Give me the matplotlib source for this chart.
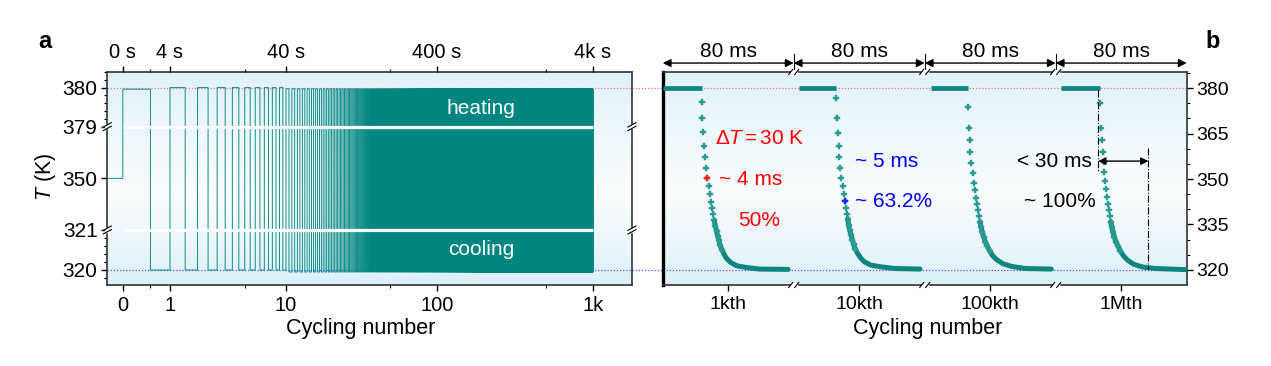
import numpy as np
import matplotlib
matplotlib.use("Agg")
import matplotlib.pyplot as plt
import matplotlib.transforms as mtransforms
from matplotlib.lines import Line2D
from matplotlib.patches import Rectangle
from matplotlib.colors import LinearSegmentedColormap
from matplotlib.ticker import FixedLocator, NullFormatter

plt.rcParams["font.family"] = ["Liberation Sans", "DejaVu Sans"]
plt.rcParams["mathtext.fontset"] = "custom"
plt.rcParams["mathtext.rm"] = "Liberation Sans"
plt.rcParams["mathtext.it"] = "Liberation Sans:italic"

# ---------------- panel a: long-term cycling ----------------
T_start = 350.0
start_cycle = -0.3
n_cycles = 1000
heat_fraction = 0.5
band_edges = [0, 1, 10]          # first cycle of each band
heat_T = [379.96, 380.0, 379.97]
cool_T = [320.0, 320.0, 319.95]

xticks_a = [0, 1, 10, 100, 1000]
xlabels_a = ["0", "1", "10", "100", "1k"]
toplabels_a = ["0 s", "4 s", "40 s", "400 s", "4k s"]
xminor_a = [0.5, 5, 50, 500]
yticks_a = [320, 321, 350, 379, 380]
break_T = [321, 379]

# ---------------- panel b: single cycles (ms) ----------------
windows = ["1kth", "10kth", "100kth", "1Mth"]
window_ms = 80
plateau_start = [0.3, 83.2, 163.7, 243.2]
plateau_end = [23.8, 105.6, 186.4, 267.1]
T_hot = 380
yticks_b = [320, 335, 350, 365, 380]

seg1_t = [23.8, 24.0, 24.4, 25.2, 25.8, 26.6, 27.2, 28.4, 29.0, 29.7, 30.3, 30.9, 31.5,
          32.1, 32.9, 33.5, 34.3, 35.1, 36.2, 37.4, 39.0, 41.5, 45.1, 51.2, 59.3, 76.6]
seg1_T = [375.3, 370.0, 365.4, 361.0, 357.4, 353.7, 350.4, 347.7, 344.9, 342.5, 340.3, 338.4, 336.4,
          334.6, 332.9, 331.3, 329.8, 328.2, 326.7, 325.2, 323.8, 322.5, 321.4, 320.8, 320.3, 320.2]
seg2_t = [105.6, 106.2, 106.9, 107.5, 107.9, 108.5, 109.1, 109.9, 110.5, 111.1, 111.7, 112.3, 113.0,
          113.6, 114.2, 115.0, 115.8, 116.6, 117.6, 119.1, 120.7, 123.1, 127.2, 133.7, 141.9, 157.1]
seg2_T = [376.8, 370.2, 365.3, 361.0, 357.4, 353.7, 350.4, 347.7, 345.2, 342.7, 340.6, 338.6, 336.8,
          334.8, 333.1, 331.5, 330.0, 328.5, 326.9, 325.4, 324.1, 322.7, 321.6, 321.0, 320.5, 320.3]
seg3_t = [186.5, 186.9, 187.5, 187.7, 188.5, 189.3, 190.1, 190.7, 191.3, 191.9, 192.6, 193.2, 193.8,
          194.4, 195.2, 196.0, 197.0, 198.3, 199.7, 201.5, 204.0, 207.6, 212.9, 221.1, 237.3]
seg3_T = [373.6, 366.9, 362.9, 359.0, 355.2, 351.9, 348.8, 346.3, 343.8, 341.7, 339.7, 337.7, 335.9,
          334.2, 332.4, 330.9, 329.3, 327.8, 326.3, 324.7, 323.4, 322.1, 321.2, 320.5, 320.3]
seg4_t = [267.1, 267.7, 268.5, 269.1, 269.3, 269.5, 270.1, 270.5, 271.1, 271.7, 272.4, 273.0, 273.6,
          274.2, 275.0, 275.8, 276.8, 278.1, 279.5, 281.3, 284.0, 287.6, 292.9, 300.6, 320.0]
seg4_T = [375.0, 366.7, 362.9, 358.8, 355.6, 352.4, 349.3, 346.7, 344.1, 341.9, 339.7, 337.7, 335.9,
          334.2, 332.4, 330.9, 329.3, 327.8, 326.3, 324.7, 323.2, 321.9, 321.0, 320.5, 320.1]
half_point = (27.2, 350.4)     # ~4 ms, 50 %
tau_point = (111.1, 342.7)     # ~5 ms, 63.2 %
recover_t = [266.0, 296.6]     # < 30 ms
dense_below = 337.0            # markers merge into a band below this T
marker_above = 326.0           # no separate markers in the flat tail

teal = "#0f8580"
teal_dot = "#2a9a95"

fig = plt.figure(figsize=(12.71, 3.66), dpi=100)
axa = fig.add_axes([107.3 / 1271, 1 - 285 / 366, 524.7 / 1271, 213 / 366])
axb = fig.add_axes([662.7 / 1271, 1 - 285 / 366, 524 / 1271, 213 / 366])

grad_cmap = LinearSegmentedColormap.from_list(
    "bg", [(0, "#dcf0f9"), (0.42, "#fbfdfe"), (1, "#e0f2fa")])
grad = np.linspace(0, 1, 256).reshape(-1, 1)
for ax in (axa, axb):
    ax.imshow(grad, extent=[0, 1, 0, 1], transform=ax.transAxes, cmap=grad_cmap,
              aspect="auto", origin="lower", zorder=-10, interpolation="bilinear")

# scales for panel a
Tk = [300, 320, 321, 379, 380, 400]
Uk = [-800, 0, 40, 143.3, 182.3, 962.3]


def fwd_T(T):
    return np.interp(T, Tk, Uk)


def inv_T(u):
    return np.interp(u, Uk, Tk)


def fwd_n(x):
    return np.log10(np.clip(np.asarray(x, dtype=float) + 1, 1e-6, None))


def inv_n(u):
    return 10 ** np.asarray(u, dtype=float) - 1


axa.set_xscale("function", functions=(fwd_n, inv_n))
axa.set_yscale("function", functions=(fwd_T, inv_T))

n = np.arange(n_cycles)
band = np.searchsorted(band_edges, n, side="right") - 1
hot = np.array(heat_T)[band]
cold = np.array(cool_T)[band]
xs = np.column_stack([n, n + heat_fraction, n + heat_fraction, n + 1]).ravel()
ys = np.column_stack([hot, hot, cold, cold]).ravel()
xs = np.concatenate([[start_cycle, 0], xs])
ys = np.concatenate([[T_start, T_start], ys])
axa.plot(xs, ys, color="#008580", lw=0.65, zorder=2)
axa.hlines(break_T, 0, n_cycles, color="white", lw=2.3, zorder=3)

axa.axhline(380, xmin=0, xmax=1.0585, color="#ff7070", lw=0.9, ls=(0, (1, 1.5)),
            clip_on=False, zorder=1)
axa.axhline(320, xmin=0, xmax=1.0585, color="#4f4fff", lw=0.9, ls=(0, (1, 1.5)),
            clip_on=False, zorder=1)

axa.text(193.5, 379.47, "heating", color="white", fontsize=15, ha="center", va="center", zorder=4)
axa.text(193.5, 320.52, "cooling", color="white", fontsize=15, ha="center", va="center", zorder=4)

axa.set_xlim(-0.204, 1777)
axa.set_ylim(319.625, 380.4)
axa.xaxis.set_major_locator(FixedLocator(xticks_a))
axa.set_xticklabels(xlabels_a)
axa.xaxis.set_minor_locator(FixedLocator(xminor_a))
axa.xaxis.set_minor_formatter(NullFormatter())
axa.yaxis.set_major_locator(FixedLocator(yticks_a))
axa.set_yticklabels([str(t) for t in yticks_a])
ymin_a = list(np.round(np.arange(319.8, 321.0, 0.2), 1)) + list(np.round(np.arange(379.2, 380.5, 0.2), 1))
axa.yaxis.set_minor_locator(FixedLocator([v for v in ymin_a if v not in (320.0, 380.0)]))
axa.yaxis.set_minor_formatter(NullFormatter())
axa.tick_params(which="major", direction="out", length=4, width=1, labelsize=15, pad=3)
axa.tick_params(which="minor", direction="out", length=2.2, width=0.8)
axa.tick_params(axis="x", labelsize=14.5, pad=4)
axa.set_xlabel("Cycling number", fontsize=15.5)
axa.xaxis.set_label_coords(0.482, -0.155)

axt = axa.twiny()
axt.set_xscale("function", functions=(fwd_n, inv_n))
axt.set_xlim(axa.get_xlim())
axt.xaxis.set_major_locator(FixedLocator(xticks_a))
axt.set_xticklabels(toplabels_a)
axt.xaxis.set_minor_locator(FixedLocator(xminor_a))
axt.xaxis.set_minor_formatter(NullFormatter())
axt.tick_params(which="major", direction="out", length=4, width=1, labelsize=14.5, pad=3)
axt.tick_params(which="minor", direction="out", length=2.2, width=0.8)
for s in axt.spines.values():
    s.set_visible(False)

for s in axa.spines.values():
    s.set_color("#333333")
    s.set_linewidth(1.2)

# ---------------- panel b ----------------
segs_t = [seg1_t, seg2_t, seg3_t, seg4_t]
segs_T = [seg1_T, seg2_T, seg3_T, seg4_T]
axb.axhline(380, color="#ff7070", lw=0.9, ls=(0, (1, 1.5)), zorder=1)
axb.axhline(320, color="#4f4fff", lw=0.9, ls=(0, (1, 1.5)), zorder=1)
for k in range(len(windows)):
    axb.plot([plateau_start[k], plateau_end[k]], [T_hot, T_hot], color=teal, lw=3.4,
             solid_capstyle="butt", zorder=3)
    t = np.array(segs_t[k])
    T = np.array(segs_T[k])
    dense = T <= dense_below
    axb.plot(t[dense], T[dense], color=teal, lw=3.6, solid_capstyle="round", zorder=3)
    dots = T >= marker_above
    axb.plot(t[dots], T[dots], ls="none", marker="P", ms=4.8, mew=0.3, color=teal_dot, zorder=4)

axb.plot(*half_point, ls="none", marker="P", ms=5.0, mew=0.3, color="#ff2020", zorder=5)
axb.plot(*tau_point, ls="none", marker="P", ms=5.0, mew=0.3, color="#2020ff", zorder=5)

fs_ann = 15
axb.text(59.4, 363.4, r"$\Delta T\,$=$\,$30 K", color="red", fontsize=fs_ann, ha="center", va="center")
axb.text(34.5, 350.0, "~ 4 ms", color="red", fontsize=fs_ann, ha="left", va="center")
axb.text(59.2, 336.3, "50%", color="red", fontsize=fs_ann, ha="center", va="center")
axb.text(136.7, 355.9, "~ 5 ms", color="blue", fontsize=fs_ann, ha="center", va="center")
axb.text(117.4, 342.5, "~ 63.2%", color="blue", fontsize=fs_ann, ha="left", va="center")
axb.text(262.2, 355.9, "< 30 ms", color="black", fontsize=fs_ann, ha="right", va="center")
axb.text(242.3, 342.5, "~ 100%", color="black", fontsize=fs_ann, ha="center", va="center")

axb.plot([recover_t[0], recover_t[0]], [379.3, 352.2], color="black", lw=0.8, ls="-.", zorder=6)
axb.plot([recover_t[1], recover_t[1]], [360.3, 320.4], color="black", lw=0.8, ls="-.", zorder=6)
axb.annotate("", xy=(recover_t[1], 355.9), xytext=(recover_t[0], 355.9),
             arrowprops=dict(arrowstyle="<|-|>", color="black", lw=1, shrinkA=0, shrinkB=0,
                             mutation_scale=11), zorder=6)

axb.set_xlim(0, len(windows) * window_ms)
axb.set_ylim(315.05, 385.28)
axb.yaxis.tick_right()
axb.yaxis.set_major_locator(FixedLocator(yticks_b))
axb.yaxis.set_minor_locator(FixedLocator([v for v in range(315, 386, 5) if v not in yticks_b]))
centers = [window_ms * (k + 0.5) for k in range(len(windows))]
axb.xaxis.set_major_locator(FixedLocator(centers))
axb.set_xticklabels(windows)
axb.xaxis.set_minor_locator(FixedLocator([]))
axb.tick_params(which="major", direction="out", length=4, width=1, labelsize=14, pad=3)
axb.tick_params(which="minor", direction="out", length=2.2, width=0.8)
axb.tick_params(axis="x", labelsize=14, pad=4)
axb.set_xlabel("Cycling number", fontsize=15.5)
axb.xaxis.set_label_coords(0.506, -0.155)
for s in axb.spines.values():
    s.set_color("#333333")
    s.set_linewidth(1.2)
axb.spines["left"].set_color("black")
axb.spines["left"].set_linewidth(2.4)

# 80 ms arrows on top
btrans = mtransforms.blended_transform_factory(axb.transData, axb.transAxes)
for k in range(len(windows)):
    x0, x1 = window_ms * k, window_ms * (k + 1)
    axb.annotate("", xy=(x1, 1.042), xytext=(x0, 1.042), xycoords=btrans, textcoords=btrans,
                 arrowprops=dict(arrowstyle="<|-|>", color="black", lw=1, shrinkA=0, shrinkB=0,
                                 mutation_scale=12), annotation_clip=False)
    axb.text(centers[k], 1.094, "80 ms", transform=btrans, fontsize=fs_ann, ha="center", va="center")
    if k > 0:
        axb.plot([x0, x0], [1.0, 1.085], transform=btrans, color="black", lw=0.8, clip_on=False)


def spine_break(x, y, trans, vertical):
    base = fig.dpi_scale_trans + mtransforms.ScaledTranslation(x, y, trans)
    if vertical:
        gap = Rectangle((-0.025, -0.018), 0.05, 0.036, transform=base, color="white",
                        zorder=6, clip_on=False)
        strokes = [((-0.04, 0.04), (dy - 0.022, dy + 0.022)) for dy in (-0.018, 0.018)]
    else:
        gap = Rectangle((-0.03, -0.025), 0.06, 0.05, transform=base, color="white",
                        zorder=6, clip_on=False)
        strokes = [((dx - 0.02, dx + 0.02), (-0.025, 0.025)) for dx in (-0.03, 0.03)]
    fig.add_artist(gap)
    for sx, sy in strokes:
        fig.add_artist(Line2D(sx, sy, transform=base, color="black", lw=0.8, zorder=7))


atrans = mtransforms.blended_transform_factory(axa.transAxes, axa.transData)
for Tb in break_T:
    spine_break(0, Tb, atrans, True)
    spine_break(1, Tb, atrans, True)
for k in range(1, len(windows)):
    spine_break(window_ms * k, 0, btrans, False)
    spine_break(window_ms * k, 1, btrans, False)

fig.text(45 / 1271, 1 - 176.7 / 366, r"$T$ (K)", rotation=90, fontsize=15.5, ha="center", va="center")
fig.text(45 / 1271, 1 - 42 / 366, "a", fontsize=17, fontweight="bold", ha="center", va="center")
fig.text(1213 / 1271, 1 - 42 / 366, "b", fontsize=17, fontweight="bold", ha="center", va="center")

fig.savefig("out.png", dpi=100)
